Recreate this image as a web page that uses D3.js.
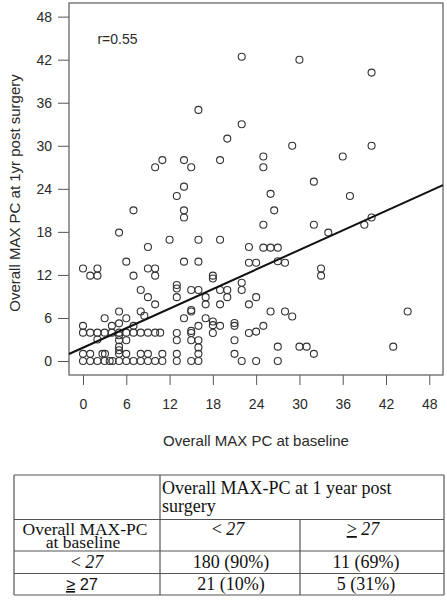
<!DOCTYPE html>
<html>
<head>
<meta charset="utf-8">
<script src="https://cdn.jsdelivr.net/npm/d3@7"></script>
<style>
  html, body { margin: 0; padding: 0; background: #fff; }
  svg { display: block; }
</style>
</head>
<body>
<svg id="chart" width="447" height="608"></svg>
<script>
// ---- data ----
const baselineValues = [
  // y = 0 row
  0,1,2,3,3.7,4.1,5,6,7,8,9,10,11,13,15,16,22,24,27,
  // y = 1 row
  0,1,2.7,3.05,5,6,8,9,11,13,16,21,32,
  // y ~ 1.5-2
  5,5,16,27,30,31,43,
  // y ~ 3
  2,5,6,13,15,16,21,
  5,
  // y ~ 4
  0,1,2,3,4,5,6,7,8,9,10,10.7,13,15,15,18,23,24,
  // y ~ 5
  0,4,5,7,16,18,18,19,21,21,25,
  // y ~ 6
  3,6,8.5,14,17,29,
  // y ~ 7
  5,8,15,15,26,28,45,
  // y ~ 8
  10,17,19,23,
  // y ~ 9
  9,13,17,20,24,
  // y ~ 10-11
  8,13,13,15,16,19,20,22,22,
  // y ~ 12
  1,2,7,10,18,18,33,
  // y ~ 13
  0,2,9,10,33,
  // y ~ 14
  6,14,16,23,24,27,28,
  // y ~ 16
  9,23,25,26,27,
  // y ~ 17
  12,16,19,
  // y ~ 18-21
  5,34,25,32,39,14,40,7,14,26.5,
  // y ~ 23-25
  13,26,37,14,32,
  // y ~ 27-31
  10,11,14,15,19,25,25,36,20,29,40,
  // upper
  22,16,40,22,30
];
const oneYearValues = [
  0,0,0,0,0,0,0,0,0,0,0,0,0,0,0,0,0,0,0,
  1,1,1,1,1,1,1,1,1,1,1,1,1,
  2,1.5,1.9,2,2,2,2,
  3,2.9,2.9,2.9,2.9,2.9,2.9,
  3.6,
  3.95,3.95,3.95,3.95,3.95,3.95,3.95,3.95,3.95,3.95,3.95,3.95,3.9,3.9,4.2,3.9,3.9,4.1,
  4.9,4.9,5.25,4.9,4.9,5.0,5.5,4.9,4.9,5.3,4.9,
  5.95,5.95,6.3,5.95,5.95,6.2,
  6.9,6.9,6.9,7.1,6.9,6.9,6.9,
  7.9,7.9,7.9,7.9,
  8.9,8.9,8.9,8.9,8.9,
  9.9,10.1,10.6,9.9,9.9,9.9,9.9,9.9,10.9,
  11.9,11.9,11.9,11.9,11.5,11.9,11.9,
  12.9,12.9,12.9,12.9,12.9,
  13.85,13.85,13.85,13.7,13.7,13.9,13.7,
  15.9,15.9,15.8,15.8,15.8,
  16.9,16.9,16.9,
  17.9,17.9,19,19,19,20,20,21,21,21,
  23,23.3,23,24.3,25,
  27,28,28,27,28,27,28.5,28.5,31,30,30,
  33,35,40.2,42.4,42
];
const xTicks = [0, 6, 12, 18, 24, 30, 36, 42, 48];
const yTicks = [0, 6, 12, 18, 24, 30, 36, 42, 48];
const fitIntercept = 1.86;   // fitted line
const fitSlope = 0.454;
const corrLabel = "r=0.55";
const xTitle = "Overall MAX PC at baseline";
const yTitle = "Overall MAX PC at 1yr post surgery";

// table
const tableHeader = ["Overall MAX-PC at 1 year post", "surgery"];
const rowHeader = ["Overall MAX-PC", "at baseline"];
const colCategories = ["<", "\u2265"];
const cutoff = "27";
const tableCounts = [["180 (90%)", "11 (69%)"], ["21 (10%)", "5 (31%)"]];

// ---- chart ----
const svg = d3.select("#chart");
const box = { left: 69, right: 443, top: 3, bottom: 375 };
const x = d3.scaleLinear().domain([-1.94, 49.9]).range([box.left, box.right]);
const y = d3.scaleLinear().domain([-1.95, 49.9]).range([box.bottom, box.top]);
const sans = "'Liberation Sans', Arial, Helvetica, sans-serif";
const serif = "'Liberation Serif', 'Times New Roman', serif";
const textColor = "#2a2a2a";

// axes (R style: ticks outside the box)
const xAxis = svg.append("g")
  .attr("transform", `translate(0,${box.bottom})`)
  .call(d3.axisBottom(x).tickValues(xTicks).tickSize(10).tickPadding(14).tickFormat(d3.format("d")));
xAxis.select(".domain").remove();
xAxis.selectAll("line").attr("stroke", "#555").attr("stroke-width", 1);
xAxis.selectAll("text").attr("font-family", sans).attr("font-size", 14).attr("fill", textColor);

const yAxis = svg.append("g")
  .attr("transform", `translate(${box.left},0)`)
  .call(d3.axisLeft(y).tickValues(yTicks).tickSize(11).tickPadding(6).tickFormat(d3.format("d")));
yAxis.select(".domain").remove();
yAxis.selectAll("line").attr("stroke", "#555").attr("stroke-width", 1);
yAxis.selectAll("text").attr("font-family", sans).attr("font-size", 14).attr("fill", textColor);

// box
svg.append("rect")
  .attr("x", box.left).attr("y", box.top)
  .attr("width", box.right - box.left).attr("height", box.bottom - box.top)
  .attr("fill", "none").attr("stroke", "#666").attr("stroke-width", 1.3);

// points
const pts = baselineValues.map((v, i) => ({ x: v, y: oneYearValues[i] }));
svg.append("g").selectAll("circle").data(pts).join("circle")
  .attr("cx", d => x(d.x)).attr("cy", d => y(d.y)).attr("r", 3.5)
  .attr("fill", "none").attr("stroke", "#333").attr("stroke-width", 1.1);

// fitted line, clipped to box
const [x0, x1] = x.domain();
svg.append("line")
  .attr("x1", x(x0)).attr("y1", y(fitIntercept + fitSlope * x0))
  .attr("x2", x(x1)).attr("y2", y(fitIntercept + fitSlope * x1))
  .attr("stroke", "#111").attr("stroke-width", 2);

// r label
svg.append("text").attr("x", x(2)).attr("y", y(44.2))
  .attr("font-family", sans).attr("font-size", 14).attr("fill", textColor)
  .text(corrLabel);

// axis titles
svg.append("text").attr("x", (box.left + box.right) / 2).attr("y", 446)
  .attr("text-anchor", "middle").attr("font-family", sans).attr("font-size", 15).attr("fill", textColor)
  .text(xTitle);
svg.append("text")
  .attr("transform", `translate(20,${(box.top + box.bottom) / 2 + 4}) rotate(-90)`)
  .attr("text-anchor", "middle").attr("font-family", sans).attr("font-size", 15).attr("fill", textColor)
  .text(yTitle);

// ---- table ----
const T = { left: 14, right: 444, top: 475, r1: 519.5, r2: 551, r3: 573.5, bottom: 595, c1: 160, c2: 300 };
const tg = svg.append("g");
const ln = (x1, y1, x2, y2) => tg.append("line").attr("x1", x1).attr("y1", y1).attr("x2", x2).attr("y2", y2)
  .attr("stroke", "#555").attr("stroke-width", 1.2);
ln(T.left, T.top, T.right, T.top);
ln(T.left, T.r1, T.right, T.r1);
ln(T.left, T.r2, T.right, T.r2);
ln(T.left, T.r3, T.right, T.r3);
ln(T.left, T.bottom, T.right, T.bottom);
ln(T.left, T.top, T.left, T.bottom);
ln(T.right, T.top, T.right, T.bottom);
ln(T.c1, T.top, T.c1, T.bottom);
ln(T.c2, T.r1, T.c2, T.bottom);

const fs = 18;
const txt = (xx, yy, anchor, size) => tg.append("text").attr("x", xx).attr("y", yy)
  .attr("text-anchor", anchor).attr("font-family", serif).attr("font-size", size || fs).attr("fill", "#111");

txt(T.c1 + 2, 493.5, "start").text(tableHeader[0]);
txt(T.c1 + 2, 511.5, "start").text(tableHeader[1]);
txt(85, 534.5, "middle", 17.5).text(rowHeader[0]);
txt(83, 548, "middle", 17.5).text(rowHeader[1]);

// column headers: "< 27" and underlined ">" 27
const colCenters = [228, 363];
colCategories.forEach((c, i) => {
  const t = txt(colCenters[i], 535, "middle");
  if (c === "<") {
    t.append("tspan").text("< ");
  } else {
    t.append("tspan").attr("text-decoration", "underline").text(">");
    t.append("tspan").text(" ");
  }
  t.append("tspan").attr("font-style", "italic").text(cutoff);
});

// row labels
const r3t = txt(87, 568, "middle");
r3t.append("tspan").text("< ");
r3t.append("tspan").attr("font-style", "italic").text(cutoff);

const r4t = tg.append("text").attr("x", 82).attr("y", 590).attr("text-anchor", "middle")
  .attr("font-family", sans).attr("font-size", 16.5).attr("fill", "#111");
r4t.append("tspan").attr("text-decoration", "underline").text("\u2265");
r4t.append("tspan").text(" " + cutoff);

const cellCenters = [231, 366];
const rowBaselines = [568, 590];
tableCounts.forEach((row, ri) => row.forEach((v, ci) => {
  txt(cellCenters[ci], rowBaselines[ri], "middle").text(v);
}));
</script>
</body>
</html>
